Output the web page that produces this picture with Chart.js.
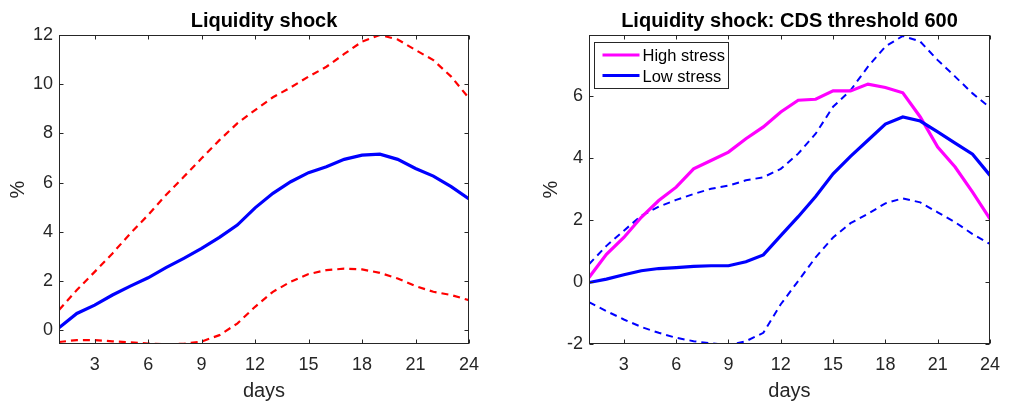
<!DOCTYPE html>
<html>
<head>
<meta charset="utf-8">
<script src="https://cdn.jsdelivr.net/npm/chart.js@4.4.1/dist/chart.umd.min.js"></script>
<style>
  body { margin: 0; background: #fff; }
  .box { position: absolute; top: 0; width: 505px; height: 401px; }
</style>
</head>
<body>
<div class="box" style="left:0"><canvas id="left"></canvas></div>
<div class="box" style="left:505px"><canvas id="right"></canvas></div>
<script>
// data
const days = [1, 2, 3, 4, 5, 6, 7, 8, 9, 10, 11, 12, 13, 14, 15, 16, 17, 18, 19, 20, 21, 22, 23, 24];

const shockMedian = [0.11, 0.69, 1.03, 1.44, 1.80, 2.14, 2.55, 2.93, 3.33, 3.78, 4.28, 4.98,
                     5.57, 6.04, 6.41, 6.65, 6.95, 7.12, 7.16, 6.95, 6.58, 6.27, 5.84, 5.34];
const shockUpper = [0.83, 1.64, 2.38, 3.13, 3.94, 4.69, 5.50, 6.24, 6.99, 7.73, 8.41, 8.95,
                    9.47, 9.87, 10.31, 10.71, 11.23, 11.73, 12.0, 11.82, 11.39, 10.98, 10.31, 9.43];
const shockLower = [-0.47, -0.39, -0.39, -0.44, -0.48, -0.53, -0.56, -0.54, -0.45, -0.19, 0.28, 0.96,
                    1.57, 1.98, 2.29, 2.45, 2.51, 2.48, 2.34, 2.11, 1.80, 1.57, 1.44, 1.23];

const highStress = [0.14, 0.89, 1.43, 2.08, 2.62, 3.05, 3.64, 3.91, 4.18, 4.61, 4.99, 5.47,
                    5.85, 5.88, 6.15, 6.15, 6.37, 6.26, 6.09, 5.31, 4.34, 3.70, 2.89, 2.03];
const lowStress = [-0.02, 0.09, 0.23, 0.36, 0.43, 0.46, 0.50, 0.52, 0.52, 0.65, 0.87, 1.49,
                   2.10, 2.75, 3.48, 4.04, 4.56, 5.08, 5.31, 5.18, 4.83, 4.47, 4.11, 3.43];
const lowUpper = [0.57, 1.16, 1.65, 2.13, 2.42, 2.64, 2.83, 3.00, 3.10, 3.27, 3.37, 3.64,
                  4.13, 4.77, 5.64, 6.17, 6.93, 7.58, 7.92, 7.74, 7.14, 6.61, 6.07, 5.61];
const lowLower = [-0.65, -0.94, -1.21, -1.45, -1.64, -1.80, -1.91, -1.98, -2.04, -1.91, -1.64, -0.72,
                  0.03, 0.79, 1.43, 1.89, 2.19, 2.53, 2.69, 2.56, 2.24, 1.92, 1.54, 1.22];

const xTicks = [3, 6, 9, 12, 15, 18, 21, 24];
const leftYTicks = [0, 2, 4, 6, 8, 10, 12];
const rightYTicks = [-2, 0, 2, 4, 6];

const axisColor = '#262626';
const FONT = '"Liberation Sans", Arial, sans-serif';

Chart.defaults.font.family = FONT;
Chart.defaults.color = axisColor;

const pts = (ys) => days.map((d, i) => ({ x: d, y: ys[i] }));

// matlab style box, inward ticks, titles, legend
const matlabAxes = {
    id: 'matlabAxes',
    afterDraw(chart, args, opts) {
        const ctx = chart.ctx, a = chart.chartArea;
        const xs = chart.scales.x, ys = chart.scales.y;
        const l = Math.round(a.left) + 0.5, r = Math.round(a.right) - 0.5;
        const t = Math.round(a.top) + 0.5, b = Math.round(a.bottom) - 0.5;
        ctx.save();
        ctx.strokeStyle = axisColor;
        ctx.lineWidth = 1;
        ctx.strokeRect(l, t, r - l, b - t);
        ctx.beginPath();
        xs.ticks.forEach(tk => {
            const px = Math.round(xs.getPixelForValue(tk.value)) + 0.5;
            ctx.moveTo(px, b); ctx.lineTo(px, b - 4);
            ctx.moveTo(px, t); ctx.lineTo(px, t + 4);
        });
        ys.ticks.forEach(tk => {
            const py = Math.round(ys.getPixelForValue(tk.value)) + 0.5;
            ctx.moveTo(l, py); ctx.lineTo(l + 4, py);
            ctx.moveTo(r, py); ctx.lineTo(r - 4, py);
        });
        ctx.stroke();

        const cx = (a.left + a.right) / 2;
        ctx.textAlign = 'center';
        ctx.textBaseline = 'alphabetic';
        ctx.fillStyle = '#000';
        ctx.font = 'bold 20px ' + FONT;
        ctx.fillText(opts.title, cx, 27);

        ctx.fillStyle = axisColor;
        ctx.font = '20px ' + FONT;
        ctx.fillText('days', cx, 397);
        ctx.save();
        ctx.translate(opts.yLabelX, (a.top + a.bottom) / 2);
        ctx.rotate(-Math.PI / 2);
        ctx.textBaseline = 'middle';
        ctx.fillText('%', 0, 0);
        ctx.restore();

        if (opts.legend) {
            const bx = Math.round(a.left) + 5.5, by = Math.round(a.top) + 7.5;
            ctx.fillStyle = '#fff';
            ctx.fillRect(bx, by, 134, 46);
            ctx.strokeStyle = axisColor;
            ctx.lineWidth = 1;
            ctx.strokeRect(bx, by, 134, 46);
            ctx.font = '16.5px ' + FONT;
            ctx.textAlign = 'left';
            opts.legend.forEach((it, i) => {
                const ry = by + 12.5 + i * 20.5;
                ctx.strokeStyle = it.color;
                ctx.lineWidth = 3;
                ctx.beginPath();
                ctx.moveTo(bx + 8, ry); ctx.lineTo(bx + 45, ry);
                ctx.stroke();
                ctx.fillStyle = '#000';
                ctx.fillText(it.label, bx + 48, ry + 6);
            });
        }
        ctx.restore();
    }
};

function scalesFor(yMin, yMax, yTicks, yWidth) {
    return {
        x: {
            type: 'linear', min: 1, max: 24,
            grid: { display: false, drawTicks: false },
            border: { display: false },
            ticks: { font: { size: 18 }, color: axisColor, padding: 10, maxRotation: 0 },
            afterBuildTicks: s => { s.ticks = xTicks.map(v => ({ value: v })); },
            afterFit: s => { s.height = 57; }
        },
        y: {
            min: yMin, max: yMax,
            grid: { display: false, drawTicks: false },
            border: { display: false },
            ticks: { font: { size: 18 }, color: axisColor, padding: 6 },
            afterBuildTicks: s => { s.ticks = yTicks.map(v => ({ value: v })); },
            afterFit: s => { s.width = yWidth; }
        }
    };
}

const commonOpts = {
    responsive: true,
    maintainAspectRatio: false,
    animation: false,
    elements: { point: { radius: 0 }, line: { tension: 0 } },
};

new Chart(document.getElementById('left'), {
    type: 'line',
    data: {
        datasets: [
            { label: 'Median', data: pts(shockMedian), borderColor: '#0000ff', borderWidth: 3.2 },
            { label: 'Upper', data: pts(shockUpper), borderColor: '#ff0000', borderWidth: 2.2, borderDash: [7, 5] },
            { label: 'Lower', data: pts(shockLower), borderColor: '#ff0000', borderWidth: 2.2, borderDash: [7, 5] },
        ]
    },
    options: {
        ...commonOpts,
        layout: { padding: { left: 0, right: 36, top: 35, bottom: 0 } },
        scales: scalesFor(-0.55, 12, leftYTicks, 59),
        plugins: {
            legend: { display: false },
            tooltip: { enabled: false },
            matlabAxes: { title: 'Liquidity shock', yLabelX: 18 }
        }
    },
    plugins: [matlabAxes]
});

new Chart(document.getElementById('right'), {
    type: 'line',
    data: {
        datasets: [
            { label: 'Low stress', data: pts(lowStress), borderColor: '#0000ff', borderWidth: 3.2 },
            { label: 'High stress', data: pts(highStress), borderColor: '#ff00ff', borderWidth: 3.2 },
            { label: 'Upper', data: pts(lowUpper), borderColor: '#0000ff', borderWidth: 2, borderDash: [7, 5] },
            { label: 'Lower', data: pts(lowLower), borderColor: '#0000ff', borderWidth: 2, borderDash: [7, 5] },
        ]
    },
    options: {
        ...commonOpts,
        layout: { padding: { left: 0, right: 12, top: 35, bottom: 0 } },
        scales: scalesFor(-2, 7.95, rightYTicks, 84),
        plugins: {
            legend: { display: false },
            tooltip: { enabled: false },
            matlabAxes: {
                title: 'Liquidity shock: CDS threshold 600',
                yLabelX: 46,
                legend: [
                    { label: 'High stress', color: '#ff00ff' },
                    { label: 'Low stress', color: '#0000ff' }
                ]
            }
        }
    },
    plugins: [matlabAxes]
});
</script>
</body>
</html>
